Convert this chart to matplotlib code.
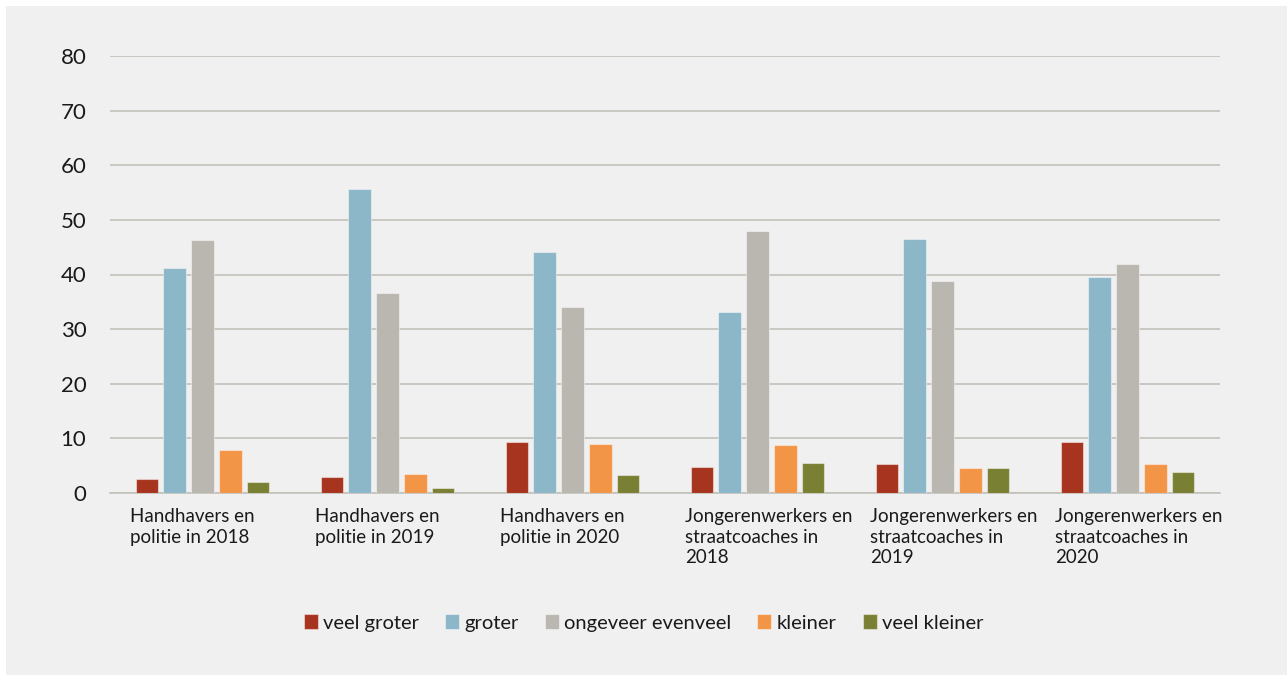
import numpy as np
import matplotlib.pyplot as plt
from matplotlib.patches import Rectangle

plt.rcParams['font.family'] = ['Lato', 'DejaVu Sans']

groups = ['Handhavers en\npolitie in 2018', 'Handhavers en\npolitie in 2019',
          'Handhavers en\npolitie in 2020', 'Jongerenwerkers en\nstraatcoaches in\n2018',
          'Jongerenwerkers en\nstraatcoaches in\n2019', 'Jongerenwerkers en\nstraatcoaches in\n2020']
series = ['veel groter', 'groter', 'ongeveer evenveel', 'kleiner', 'veel kleiner']
veel_groter = [2.5, 2.9, 9.4, 4.7, 5.3, 9.3]
groter = [41.1, 55.7, 44.1, 33.1, 46.5, 39.5]
evenveel = [46.3, 36.7, 34.1, 48.0, 38.9, 41.9]
kleiner = [7.8, 3.4, 8.9, 8.7, 4.5, 5.4]
veel_kleiner = [2.1, 1.0, 3.3, 5.5, 4.5, 3.8]
colors = ['#a7341e', '#8cb7c8', '#bab7b0', '#f29547', '#7a8033']

values = [veel_groter, groter, evenveel, kleiner, veel_kleiner]

fig = plt.figure(figsize=(12.87, 6.75), dpi=100, facecolor='white')
# grey panel behind the chart
fig.patches.append(Rectangle((6 / 1287, 0), 1, 1 - 6 / 675, transform=fig.transFigure,
                             facecolor='#f0f0f0', edgecolor='none', zorder=-1))

ax = fig.add_axes([110 / 1287, 1 - 493 / 675, 1110 / 1287, 437 / 675])
ax.set_facecolor('none')

x = np.arange(len(groups))
step = 0.151
width = 0.12
for i, (name, vals, c) in enumerate(zip(series, values, colors)):
    ax.bar(x + (i - 2) * step, vals, width, color=c, label=name,
           edgecolor=(1, 1, 1, 0.45), linewidth=0.8, zorder=3)

ax.set_xlim(-0.5, len(groups) - 0.5)
ax.set_ylim(0, 80)
ax.set_yticks(range(0, 81, 10))
ax.yaxis.grid(True, color='#c3c0b9', linewidth=1.2, zorder=0)
ax.tick_params(axis='y', length=0, labelsize=16, pad=17, labelcolor='#1a1a1a')
ax.set_xticks([])
for s in ['top', 'right', 'left']:
    ax.spines[s].set_visible(False)
ax.spines['bottom'].set_color('#c3c0b9')
ax.spines['bottom'].set_linewidth(1.2)

for xi, g in zip(x, groups):
    ax.text(xi - 0.39, -0.035, g, transform=ax.get_xaxis_transform(), ha='left', va='top',
            fontsize=13.5, color='#1a1a1a', linespacing=1.25)

ax.legend(loc='center', bbox_to_anchor=(0.5, (675 - 623) / 675),
          bbox_transform=fig.transFigure, ncol=5, frameon=False, fontsize=14.5,
          handlelength=0.7, handleheight=0.7, handletextpad=0.25, columnspacing=1.3,
          labelcolor='#1a1a1a')

fig.savefig('out.png', dpi=100, facecolor=fig.get_facecolor())
